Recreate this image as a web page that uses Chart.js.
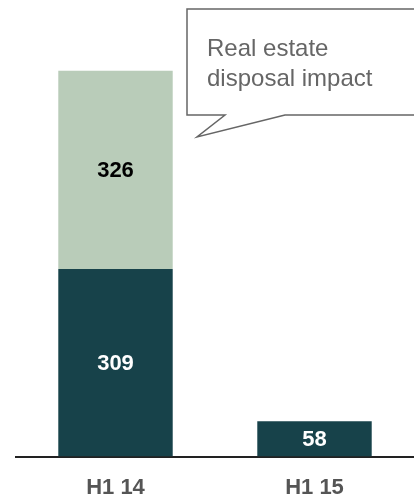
<!DOCTYPE html>
<html>
<head>
<meta charset="utf-8">
<script src="https://cdn.jsdelivr.net/npm/chart.js@4"></script>
<style>
    html, body { margin: 0; padding: 0; background: #fff; overflow: hidden; }
    #wrap { width: 414px; height: 502px; }
</style>
</head>
<body>
<div id="wrap"><canvas id="chart" width="414" height="502"></canvas></div>
<script>
const categories = ['H1 14', 'H1 15'];
const baseValues = [309, 58];
const disposalValues = [326, null];
const calloutLines = ['Real estate', 'disposal impact'];

const FONT = "'Liberation Sans', Arial, sans-serif";

// writes the value in the middle of each bar segment
const valueLabels = {
    id: 'valueLabels',
    afterDatasetsDraw(chart) {
        const ctx = chart.ctx;
        ctx.save();
        ctx.font = 'bold 22px ' + FONT;
        ctx.textAlign = 'center';
        ctx.textBaseline = 'middle';
        chart.data.datasets.forEach((ds, i) => {
            const meta = chart.getDatasetMeta(i);
            meta.data.forEach((bar, j) => {
                const v = ds.data[j];
                if (v == null) return;
                ctx.fillStyle = ds.labelColor;
                ctx.fillText(v, bar.x, (bar.y + bar.base) / 2 + 1);
            });
        });
        ctx.restore();
    }
};

// speech bubble in the top right
const callout = {
    id: 'callout',
    afterDraw(chart) {
        const ctx = chart.ctx;
        ctx.save();
        ctx.beginPath();
        ctx.moveTo(187, 9);
        ctx.lineTo(420, 9);
        ctx.lineTo(420, 115);
        ctx.lineTo(285, 115);
        ctx.lineTo(197, 137);
        ctx.lineTo(225, 115);
        ctx.lineTo(187, 115);
        ctx.closePath();
        ctx.fillStyle = '#fff';
        ctx.fill();
        ctx.strokeStyle = '#666';
        ctx.lineWidth = 1.5;
        ctx.stroke();
        ctx.fillStyle = '#666';
        ctx.font = '24px ' + FONT;
        ctx.textBaseline = 'middle';
        ctx.fillText(calloutLines[0], 207, 49);
        ctx.fillText(calloutLines[1], 207, 79);
        ctx.restore();
    }
};

new Chart(document.getElementById('chart'), {
    type: 'bar',
    data: {
        labels: categories,
        datasets: [{
            label: 'Underlying',
            data: baseValues,
            backgroundColor: '#17424A',
            labelColor: '#fff',
            barPercentage: 0.575,
            categoryPercentage: 1
        }, {
            label: 'Real estate disposal impact',
            data: disposalValues,
            backgroundColor: '#B9CCB9',
            labelColor: '#000',
            barPercentage: 0.575,
            categoryPercentage: 1
        }]
    },
    options: {
        responsive: false,
        animation: false,
        devicePixelRatio: 1,
        layout: { padding: { left: 16, right: 0, top: 1, bottom: -17 } },
        plugins: { legend: { display: false }, tooltip: { enabled: false } },
        scales: {
            x: {
                stacked: true,
                grid: { display: false, drawTicks: false, tickLength: 0 },
                border: { display: true, color: '#222', width: 2 },
                ticks: {
                    color: '#555',
                    font: { family: FONT, size: 22, weight: 'bold' },
                    padding: 18
                }
            },
            y: {
                stacked: true,
                display: false,
                min: 0,
                max: 750
            }
        }
    },
    plugins: [valueLabels, callout]
});
</script>
</body>
</html>
